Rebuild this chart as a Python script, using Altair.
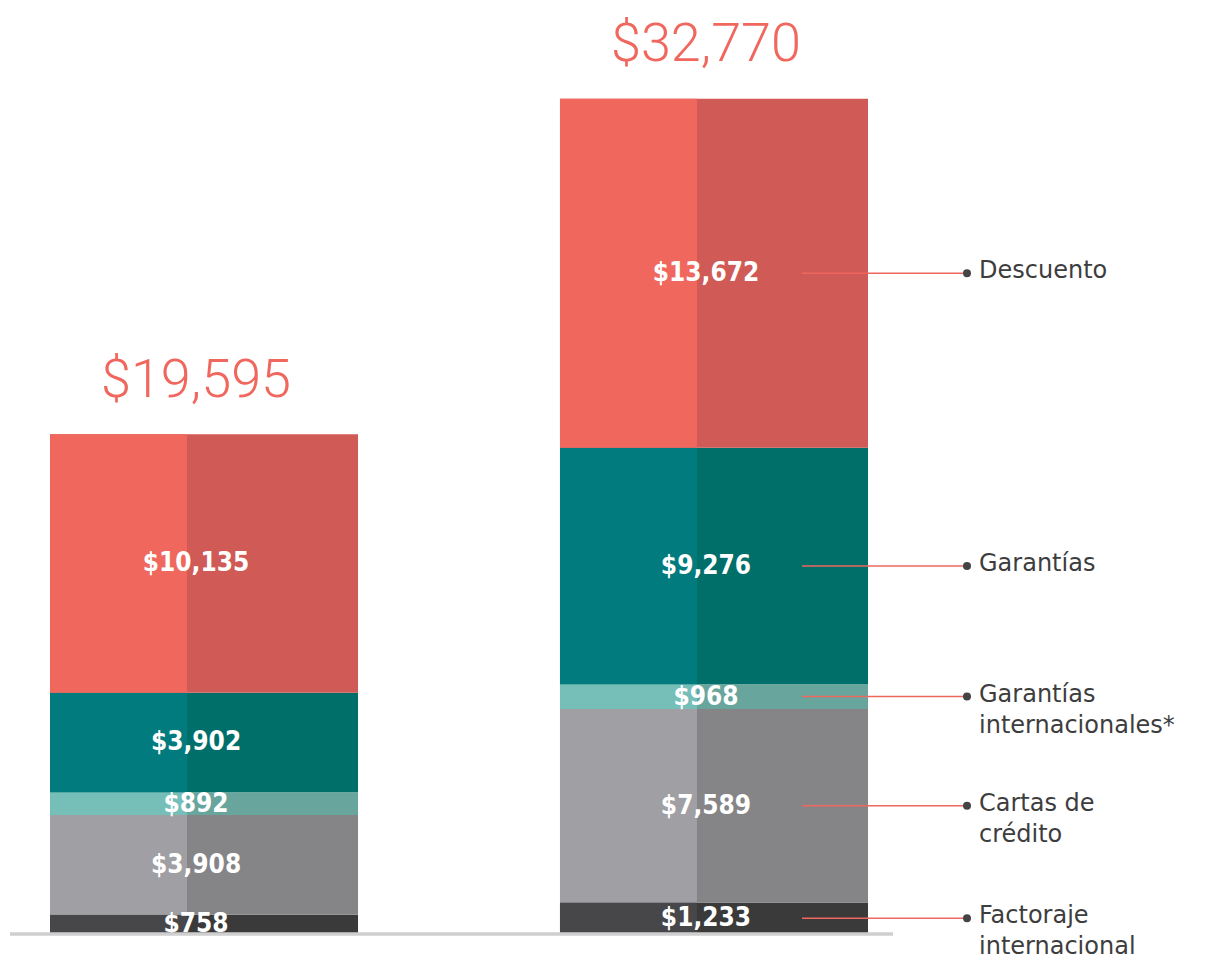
import altair as alt
import pandas as pd

# ---- data ----
years = ["Año anterior", "Año actual"]
categories = ["Factoraje internacional", "Cartas de crédito", "Garantías internacionales",
              "Garantías", "Descuento"]  # bottom -> top
legend_text = ["Factoraje\ninternacional", "Cartas de\ncrédito", "Garantías\ninternacionales*",
               "Garantías", "Descuento"]
values_prev = [758, 3908, 892, 3902, 10135]
values_curr = [1233, 7589, 968, 9276, 13672]
totals = [19595, 32770]
colors_light = ["#47474a", "#a0a0a4", "#76bfb8", "#017b7d", "#f0675e"]
colors_dark = ["#3a3a3a", "#858587", "#68a59d", "#016f69", "#d05a55"]

rows = []
for yr, vals in zip(years, [values_prev, values_curr]):
    base = 0
    for cat, v in zip(categories, vals):
        rows.append({"year": yr, "cat": cat,
                     "key_light": cat + "|claro", "key_dark": cat + "|oscuro",
                     "y0": base, "y1": base + v, "mid": base + v / 2,
                     "label": "${:,}".format(v)})
        base += v
df = pd.DataFrame(rows)
leg = df[df["year"] == years[1]].copy()
leg["legend"] = [legend_text[categories.index(c)] for c in leg["cat"]]
tot = pd.DataFrame({"year": years, "total": totals,
                    "label": ["${:,}".format(t) for t in totals],
                    "zero": [0, 0]})

keys, key_colors = [], []
for c, cl, cd in zip(categories, colors_light, colors_dark):
    keys += [c + "|claro", c + "|oscuro"]
    key_colors += [cl, cd]
fsc = alt.Scale(domain=keys, range=key_colors)

xsc = alt.Scale(domain=years, range=[42, 860], paddingInner=0.396, paddingOuter=0)
ysc = alt.Scale(domain=[0, 36300], nice=False, zero=True)

bars_dark = alt.Chart(df).mark_bar().encode(
    x=alt.X("year:N", scale=xsc, axis=None),
    y=alt.Y("y0:Q", scale=ysc, axis=None),
    y2="y1:Q",
    fill=alt.Fill("key_dark:N", scale=fsc, legend=None),
)
bars_light = alt.Chart(df).mark_bar(width=137, xOffset=-85.5).encode(
    x=alt.X("year:N", scale=xsc, axis=None),
    y=alt.Y("y0:Q", scale=ysc, axis=None),
    y2="y1:Q",
    fill=alt.Fill("key_light:N", scale=fsc, legend=None),
)

seg_labels = alt.Chart(df).mark_text(
    font="DejaVu Sans Condensed", fontWeight="bold", fontSize=26, color="white",
    baseline="middle", align="center", dx=-8
).encode(
    x=alt.X("year:N", scale=xsc, axis=None),
    y=alt.Y("mid:Q", scale=ysc, axis=None),
    text="label:N",
)

total_labels = alt.Chart(tot).mark_text(
    font="Roboto", fontWeight=300, fontSize=54, color="#f0675e",
    baseline="alphabetic", align="center", dy=-37, dx=-8
).encode(
    x=alt.X("year:N", scale=xsc, axis=None),
    y=alt.Y("total:Q", scale=ysc, axis=None),
    text="label:N",
)

base_line = alt.Chart(tot).mark_rule(color="#cfcfcf", strokeWidth=3).encode(
    x=alt.value(2), x2=alt.value(885), y=alt.Y("zero:Q", scale=ysc, axis=None)
)

leg_lines = alt.Chart(leg).mark_rule(color="#f0675e", strokeWidth=1.5).encode(
    x=alt.value(794), x2=alt.value(957), y=alt.Y("mid:Q", scale=ysc, axis=None)
)
leg_dots = alt.Chart(leg).mark_circle(size=64, color="#444444", opacity=1).encode(
    x=alt.value(959), y=alt.Y("mid:Q", scale=ysc, axis=None)
)
leg_text = alt.Chart(leg).mark_text(
    font="DejaVu Sans", fontSize=24, color="#3d3d3d", align="left",
    baseline="alphabetic", dy=5, lineBreak="\n", lineHeight=31
).encode(
    x=alt.value(971), y=alt.Y("mid:Q", scale=ysc, axis=None), text="legend:N"
)

chart = alt.layer(bars_dark, bars_light, seg_labels, total_labels, base_line,
                  leg_lines, leg_dots, leg_text).properties(
    width=1214, height=926,
    autosize=alt.AutoSizeParams(type="none"),
    padding={"left": 0, "top": 0, "right": 0, "bottom": 30},
).configure_view(stroke=None)

chart.save("out.html", embed_options={"renderer": "svg", "actions": False})
